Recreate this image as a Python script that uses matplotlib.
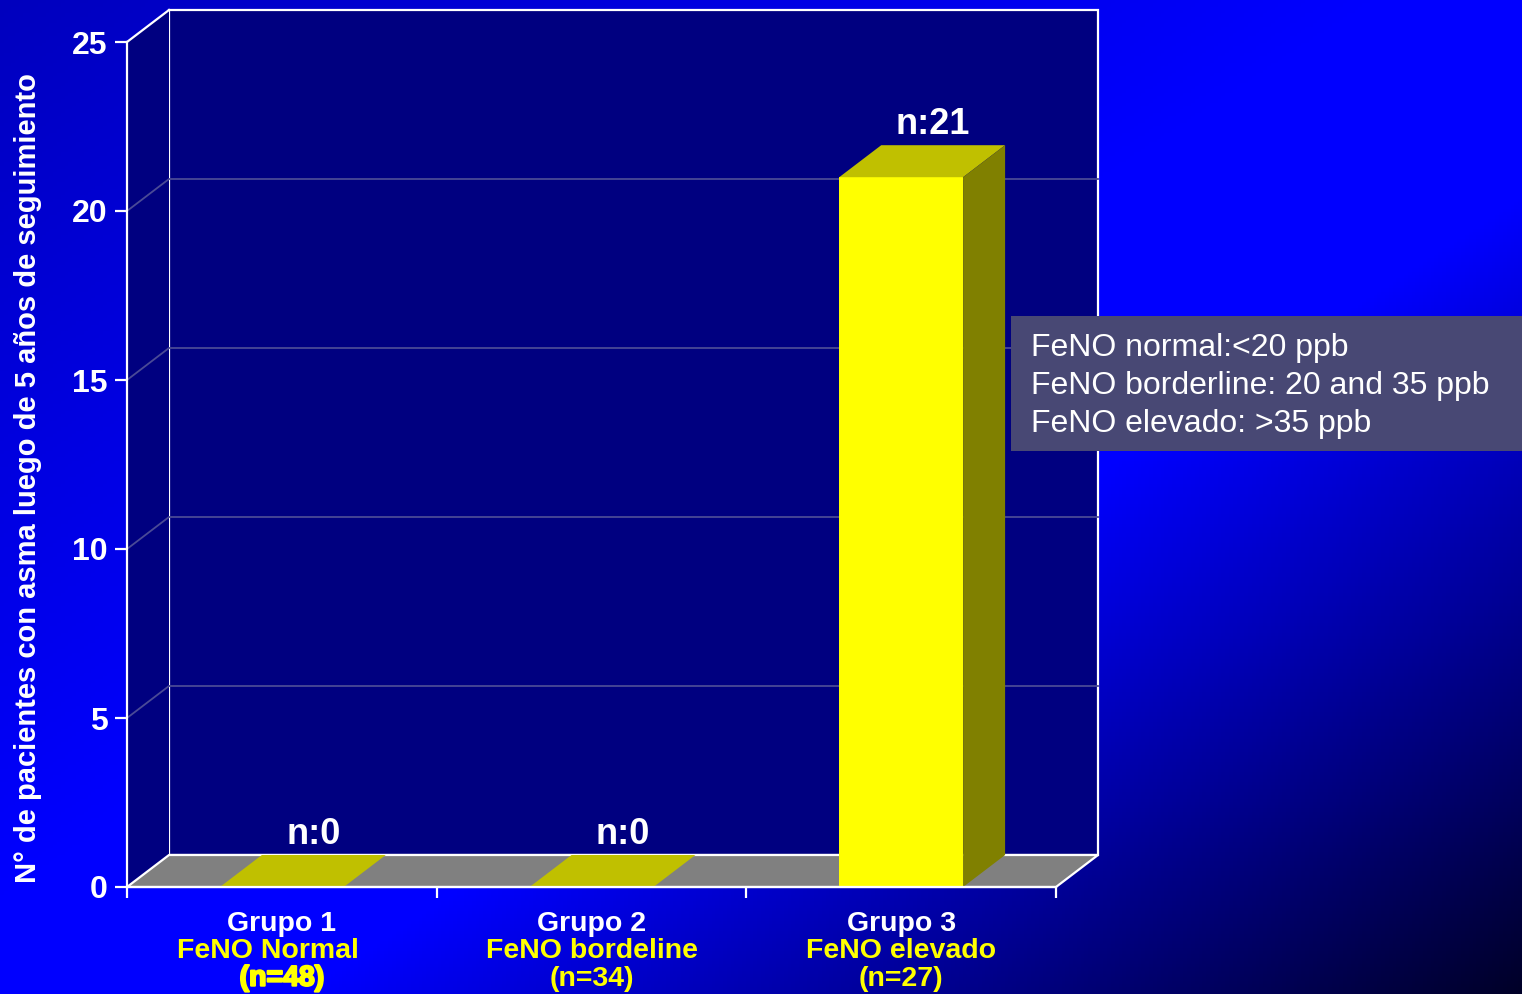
import numpy as np
import matplotlib
matplotlib.use('Agg')
import matplotlib.pyplot as plt
from matplotlib.patches import Polygon, Rectangle
import matplotlib.patheffects as pe

plt.rcParams['font.family'] = ['Liberation Sans', 'DejaVu Sans']

# Datos
grupos = ['Grupo 1', 'Grupo 2', 'Grupo 3']
feno = ['FeNO Normal', 'FeNO bordeline', 'FeNO elevado']
n_grupo = ['(n=48)', '(n=34)', '(n=27)']
pacientes = [0, 0, 21]
etiquetas = ['n:0', 'n:0', 'n:21']
leyenda = ['FeNO normal:<20 ppb', 'FeNO borderline: 20 and 35 ppb', 'FeNO elevado: >35 ppb']
yticks = [0, 5, 10, 15, 20, 25]

navy = '#000080'
floor_c = '#808080'
front_c = '#FFFF00'
top_c = '#C0C000'
side_c = '#808000'
grid_c = '#4a4a96'

W, H = 1522, 994
fig = plt.figure(figsize=(W / 100, H / 100), dpi=100)

# Fondo degradado azul
bg = fig.add_axes([0, 0, 1, 1])
xx, yy = np.meshgrid(np.linspace(0, 1, 400), np.linspace(0, 1, 300))
t = (xx + yy) / 2
b = np.interp(t, [0, 0.45, 0.6, 1.0], [190, 255, 255, 40]) / 255
img = np.zeros(t.shape + (3,))
img[..., 2] = b
bg.imshow(img, extent=[0, 1, 0, 1], aspect='auto', origin='upper')
bg.axis('off')

# Ejes principales (plano frontal)
ax = fig.add_axes([127 / W, 1 - 887 / H, 929 / W, 845 / H])
ax.set_xlim(0, 3)
ax.set_ylim(0, 25)
ax.patch.set_alpha(0)
ymax = 25
DX = 42 / 929 * 3      # profundidad en unidades de x
DY = 32 / 845 * ymax   # profundidad en unidades de y

# pared del fondo y pared lateral
ax.add_patch(Rectangle((DX, DY), 3, ymax, fc=navy, ec='white', lw=1.6,
                       clip_on=False, zorder=1))
ax.add_patch(Polygon([(0, 0), (DX, DY), (DX, ymax + DY), (0, ymax)],
                     fc=navy, ec='none', clip_on=False, zorder=1))
ax.plot([0, DX], [ymax, ymax + DY], color='white', lw=1.6, clip_on=False, zorder=6)

# lineas de cuadricula
for v in yticks[1:-1]:
    ax.plot([0, DX, 3 + DX], [v, v + DY, v + DY], color=grid_c, lw=1.3,
            clip_on=False, zorder=2)

# suelo
ax.add_patch(Polygon([(0, 0), (3, 0), (3 + DX, DY), (DX, DY)], fc=floor_c,
                     ec='white', lw=1.6, clip_on=False, zorder=3))

# barras 3D
x = np.arange(len(grupos)) + 0.5
w = 0.4
ax.bar(x, pacientes, width=w, color=front_c, zorder=5)
for xi, v in zip(x, pacientes):
    l, r = xi - w / 2, xi + w / 2
    ax.add_patch(Polygon([(l, v), (r, v), (r + DX, v + DY), (l + DX, v + DY)],
                         fc=top_c, ec='none', clip_on=False, zorder=5))
    if v > 0:
        ax.add_patch(Polygon([(r, 0), (r + DX, DY), (r + DX, v + DY), (r, v)],
                             fc=side_c, ec='none', clip_on=False, zorder=5))

for xi, v, lab in zip(x, pacientes, etiquetas):
    ax.annotate(lab, xy=(xi + DX * 0.75, v + DY), xytext=(0, 15),
                textcoords='offset points', ha='center', va='center',
                color='white', fontsize=26, fontweight='bold',
                annotation_clip=False, zorder=7)

# ejes
for s in ['top', 'right']:
    ax.spines[s].set_visible(False)
for s in ['left', 'bottom']:
    ax.spines[s].set_color('white')
    ax.spines[s].set_linewidth(1.6)
    ax.spines[s].set_zorder(6)

ax.set_yticks(yticks)
ax.tick_params(axis='y', colors='white', length=9, width=1.6, labelsize=23, pad=5)
plt.setp(ax.get_yticklabels(), fontweight='bold')
ax.set_xticks([0, 1, 2, 3])
ax.set_xticklabels([])
ax.tick_params(axis='x', colors='white', length=8, width=1.6)

# etiquetas de categorias
desplaz = [-10, 0, 0]
for i, xi in enumerate(x):
    ax.annotate(grupos[i], xy=(xi, 0), xycoords=('data', 'axes fraction'),
                xytext=(0, -26.5), textcoords='offset points', ha='center',
                va='center', color='white', fontsize=20.5, fontweight='bold',
                annotation_clip=False)
    ax.annotate(feno[i], xy=(xi, 0), xycoords=('data', 'axes fraction'),
                xytext=(desplaz[i], -46), textcoords='offset points', ha='center',
                va='center', color='#FFFF00', fontsize=20.5, fontweight='bold',
                annotation_clip=False)
    t_n = ax.annotate(n_grupo[i], xy=(xi, 0), xycoords=('data', 'axes fraction'),
                      xytext=(0, -66), textcoords='offset points', ha='center',
                      va='center', color='#FFFF00', fontsize=20.5, fontweight='bold',
                      annotation_clip=False)
    if i == 0:
        t_n.set_path_effects([pe.withStroke(linewidth=1.5, foreground='#FFFF00')])

fig.text(28 / W, 1 - 478 / H, 'N° de pacientes con asma luego de 5 años de seguimiento',
         rotation=90, ha='center', va='center', color='white', fontsize=21,
         fontweight='bold')

# cuadro de definiciones
fig.add_artist(Rectangle((1011 / W, 1 - 451 / H), (W - 1011) / W, 135 / H,
                         transform=fig.transFigure, fc='#484874', ec='none', zorder=2))
for k, linea in enumerate(leyenda):
    fig.text(1031 / W, 1 - (348 + 38 * k) / H, linea, ha='left', va='center',
             color='white', fontsize=23, zorder=3)

fig.savefig('out.png', dpi=100)
